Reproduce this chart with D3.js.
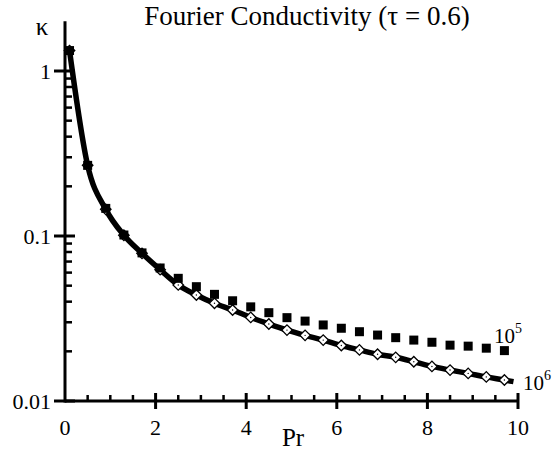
<!DOCTYPE html>
<html><head><meta charset="utf-8">
<script src="https://cdn.jsdelivr.net/npm/d3@7"></script>
<style>body{margin:0;background:#fff}svg{display:block}</style>
</head><body>
<svg id="c" width="559" height="453" font-family="'Liberation Serif', Tinos, 'Times New Roman', 'DejaVu Serif', serif"></svg>
<script>
const prValues = [0.1,0.5,0.9,1.3,1.7,2.1,2.5,2.9,3.3,3.7,4.1,4.5,4.9,5.3,5.7,6.1,6.5,6.9,7.3,7.7,8.1,8.5,8.9,9.3,9.7];
const kappa1e6 = [1.33,0.268,0.145,0.101,0.0785,0.0625,0.0505,0.0439,0.0391,0.0356,0.0321,0.0293,0.0269,0.0250,0.0234,0.0217,0.0204,0.0192,0.0184,0.0173,0.0162,0.0154,0.0147,0.0140,0.0134];
const kappa1e5 = [1.33,0.268,0.147,0.1014,0.079,0.064,0.0554,0.0493,0.0443,0.0405,0.0372,0.0343,0.032,0.0305,0.0289,0.0276,0.0263,0.0251,0.0242,0.0234,0.0227,0.0218,0.0215,0.0209,0.0202];
const curveEndPr = 9.9, curveEndKappa = 0.0131;
const xTicks = [0,2,4,6,8,10];
const yTicks = [0.01,0.1,1];
const yTickLabels = ["0.01","0.1","1"];
const title = "Fourier Conductivity (\u03c4 = 0.6)";

const svg = d3.select("#c");
const x = d3.scaleLinear().domain([0,10]).range([65,518]);
const y = d3.scaleLog().domain([0.01,2]).range([401, 401 - 165*Math.log10(200)]);

// axes lines
svg.append("line").attr("x1",x(0)).attr("x2",x(10)).attr("y1",y(0.01)).attr("y2",y(0.01)).attr("stroke","#000").attr("stroke-width",3);
svg.append("line").attr("x1",x(0)).attr("x2",x(0)).attr("y1",y(0.01)+1.5).attr("y2",y(2)).attr("stroke","#000").attr("stroke-width",3);

// x ticks
const xMinor = d3.range(0.5,10,0.5).filter(v=>Math.abs(v%2)>1e-9);
svg.selectAll(".xmin").data(xMinor).join("line").attr("x1",d=>x(d)).attr("x2",d=>x(d)).attr("y1",y(0.01)).attr("y2",y(0.01)-6).attr("stroke","#000").attr("stroke-width",2.5);
svg.selectAll(".xmaj").data(xTicks.slice(1)).join("line").attr("x1",d=>x(d)).attr("x2",d=>x(d)).attr("y1",y(0.01)-8).attr("y2",y(0.01)+8).attr("stroke","#000").attr("stroke-width",3);
svg.selectAll(".xlab").data(xTicks).join("text").attr("x",d=>x(d)).attr("y",435).attr("text-anchor","middle").attr("font-size",22).text(d=>d);

// y ticks
const yMinor = [];
[0.01,0.1].forEach(b=>{for(let i=2;i<=9;i++) yMinor.push(b*i);});
svg.selectAll(".ymin").data(yMinor).join("line").attr("x1",x(0)).attr("x2",x(0)+7).attr("y1",d=>y(d)).attr("y2",d=>y(d)).attr("stroke","#000").attr("stroke-width",2.5);
svg.selectAll(".ymaj").data(yTicks).join("line").attr("x1",x(0)-11).attr("x2",x(0)+10).attr("y1",d=>y(d)).attr("y2",d=>y(d)).attr("stroke","#000").attr("stroke-width",3);
svg.selectAll(".ylab").data(yTicks).join("text").attr("x",51).attr("y",d=>y(d)+7.5).attr("text-anchor","end").attr("font-size",22).text((d,i)=>yTickLabels[i]);

// labels
svg.append("text").attr("x",307).attr("y",25).attr("text-anchor","middle").attr("font-size",27).text(title);
svg.append("text").attr("x",42).attr("y",35).attr("text-anchor","middle").attr("font-size",25).text("\u03ba");
svg.append("text").attr("x",293).attr("y",446).attr("text-anchor","middle").attr("font-size",25).text("Pr");

// curve
const curvePts = prValues.map((p,i)=>[p,kappa1e6[i]]).concat([[curveEndPr,curveEndKappa]]);
const line = d3.line().x(d=>x(d[0])).y(d=>y(d[1])).curve(d3.curveMonotoneX);
svg.append("path").attr("d",line(curvePts)).attr("fill","none").attr("stroke","#000").attr("stroke-width",5.5).attr("stroke-linejoin","round");

// diamonds (1e6)
const dsym = d3.symbol().type(d3.symbolSquare).size(55);
const g6 = svg.selectAll(".d6").data(prValues).join("g").attr("transform",(d,i)=>`translate(${x(d)},${y(kappa1e6[i])})`);
g6.append("path").attr("d",dsym()).attr("transform","rotate(45)").attr("fill","#fff").attr("stroke","#000").attr("stroke-width",1.3);
g6.append("circle").attr("r",0.7).attr("fill","#000");

// squares (1e5)
svg.selectAll(".s5").data(prValues).join("rect")
  .attr("x",d=>x(d)-4.5).attr("y",(d,i)=>y(kappa1e5[i])-4.5).attr("width",9).attr("height",9).attr("fill","#000");

// series labels
const l5 = svg.append("text").attr("x",494).attr("y",343).attr("font-size",21);
l5.append("tspan").text("10");
l5.append("tspan").attr("font-size",14).attr("dy",-10).text("5");
const l6 = svg.append("text").attr("x",523).attr("y",390).attr("font-size",21);
l6.append("tspan").text("10");
l6.append("tspan").attr("font-size",14).attr("dy",-10).text("6");
</script>
</body></html>
